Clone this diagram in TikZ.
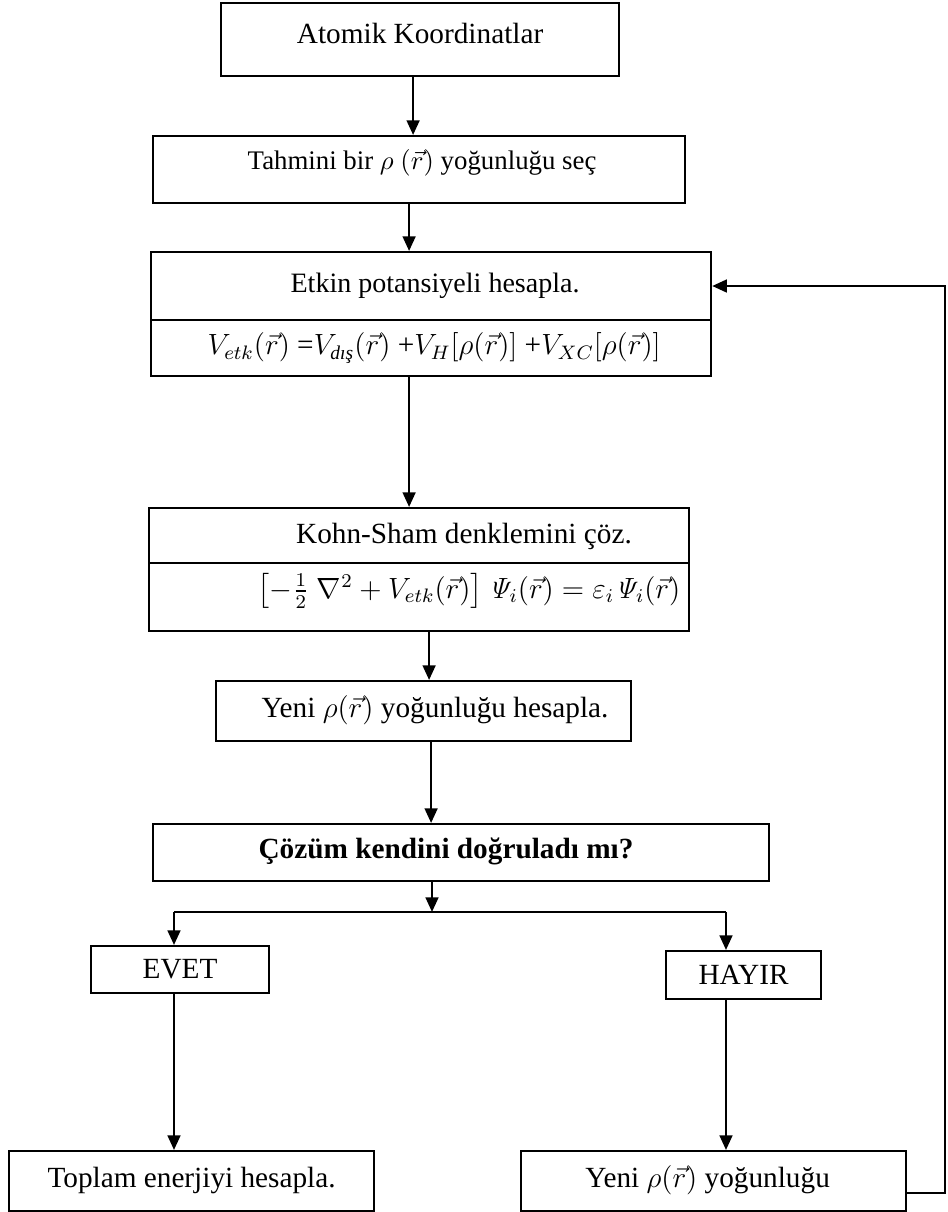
\documentclass[tikz,border=0pt]{standalone}
\usepackage{amsmath,amssymb}
\usepackage[no-math]{fontspec}
\setmainfont{Liberation Serif}
\usetikzlibrary{arrows.meta, positioning, calc}
\newcommand{\pxu}{0.41pt}
\tikzset{
  font=\fontsize{12}{14}\selectfont,
  block/.style={draw=black, line width=0.9pt, rectangle, inner sep=0pt,
    anchor=north west},
  divider/.style={line width=0.9pt, draw=black},
  caption/.style={inner sep=0pt, font=\fontsize{12}{14}\selectfont},
  flow/.style={-{Triangle[length=6pt, width=5.2pt]}, line width=1pt, draw=black},
  link/.style={line width=1pt, draw=black},
}

\begin{document}
\begin{tikzpicture}[x=\pxu, y=-\pxu]
  \useasboundingbox (0,0) rectangle (948,1212);

  % ----------------------------------------------------------------
  % Start: coordinates and first density
  % ----------------------------------------------------------------
  \node[block, minimum width=398*\pxu, minimum height=73*\pxu] (atom) at (220,2) {};
  \node[caption] (atomtxt) at ($(atom.north)+(0,31)$) {Atomik Koordinatlar};

  \node[block, minimum width=532*\pxu, minimum height=67*\pxu] (guess) at (152,135) {};
  \node[caption, font=\fontsize{11}{13}\selectfont] (guesstxt) at ($(guess.north)+(3,28)$)
    {Tahmini bir $\rho$ $(\vec{r})$ yoğunluğu seç};

  % ----------------------------------------------------------------
  % Effective potential
  % ----------------------------------------------------------------
  \node[block, minimum width=560*\pxu, minimum height=124*\pxu] (veff) at (150,251) {};
  \coordinate (veffcut) at ($(veff.north west)+(0,69)$);
  \draw[divider] (veffcut) -- (veffcut -| veff.east);
  \node[caption, font=\fontsize{11.5}{13}\selectfont] (vefftxt) at ($(veff.north)+(4,35)$)
    {Etkin potansiyeli hesapla.};
  \node[caption] (vefffor) at ($(veff.north)+(3,97)$)
    {$V_{etk}(\vec{r})$ =$V_{\textit{dış}}(\vec{r})$ +$V_H[\rho(\vec{r})]$ +$V_{XC}[\rho(\vec{r})]$};

  % ----------------------------------------------------------------
  % Kohn-Sham equations
  % ----------------------------------------------------------------
  \node[block, minimum width=540*\pxu, minimum height=123*\pxu] (ks) at (148,507) {};
  \coordinate (kscut) at ($(ks.north west)+(0,56)$);
  \draw[divider] (kscut) -- (kscut -| ks.east);
  \node[caption] (kstxt) at ($(ks.north west)+(316,29)$) {Kohn-Sham denklemini çöz.};
  \node[caption] (ksfor) at ($(ks.north west)+(321,84)$)
    {$\left[-\frac{1}{2}\;\nabla^2+V_{etk}(\vec{r})\right]\mathit{\Psi}_i(\vec{r})
      =\varepsilon_i\mathit{\Psi}_i(\vec{r})$};

  \node[block, minimum width=415*\pxu, minimum height=60*\pxu] (newrho) at (215,680) {};
  \node[caption] (newrhotxt) at ($(newrho.north west)+(220,30)$)
    {Yeni $\rho(\vec{r})$ yoğunluğu hesapla.};

  % ----------------------------------------------------------------
  % Convergence test and branches
  % ----------------------------------------------------------------
  \node[block, minimum width=616*\pxu, minimum height=57*\pxu] (check) at (152,823) {};
  \node[caption, font=\fontsize{12}{14}\selectfont\bfseries] (checktxt)
    at ($(check.north west)+(294,28)$) {Çözüm kendini doğruladı mı?};

  \node[block, minimum width=178*\pxu, minimum height=47*\pxu] (yes) at (90,945) {};
  \node[caption] (yestxt) at (yes.center) {EVET};
  \node[block, minimum width=155*\pxu, minimum height=48*\pxu] (no) at (665,950) {};
  \node[caption] (notxt) at (no.center) {HAYIR};

  \node[block, minimum width=365*\pxu, minimum height=60*\pxu] (total) at (8,1150) {};
  \node[caption] (totaltxt) at ($(total.north)+(0,30)$) {Toplam enerjiyi hesapla.};
  \node[block, minimum width=385*\pxu, minimum height=60*\pxu] (mix) at (520,1150) {};
  \node[caption] (mixtxt) at ($(mix.north)+(-6,30)$) {Yeni $\rho(\vec{r})$ yoğunluğu};

  \coordinate (split) at (432,912);
  \coordinate (splitL) at (174,912);
  \coordinate (splitR) at (726,912);
  \coordinate (back) at (945,1193);

  % ----------------------------------------------------------------
  % Arrows
  % ----------------------------------------------------------------
  \draw[flow] ([xshift=-7*\pxu]atom.south) -- ([xshift=-7*\pxu]atom.south |- guess.north);
  \draw[flow] ([xshift=-10*\pxu]guess.south) -- ([xshift=-10*\pxu]guess.south |- veff.north);
  \draw[flow] ([xshift=-22*\pxu]veff.south) -- ([xshift=-22*\pxu]veff.south |- ks.north);
  \draw[flow] ([xshift=10*\pxu]ks.south) -- ([xshift=10*\pxu]ks.south |- newrho.north);
  \draw[flow] ([xshift=7.5*\pxu]newrho.south) -- ([xshift=7.5*\pxu]newrho.south |- check.north);
  \draw[flow] (split |- check.south) -- (split);
  \draw[link] (splitL) -- (splitR);
  \draw[flow] (splitL) -- (splitL |- yes.north);
  \draw[flow] (splitR) -- (splitR |- no.north);
  \draw[flow] (splitL |- yes.south) -- (splitL |- total.north);
  \draw[flow] (splitR |- no.south) -- (splitR |- mix.north);
  \draw[flow] (mix.east |- back) -- (back) |- (veff.east |- vefftxt);

\end{tikzpicture}
\end{document}
